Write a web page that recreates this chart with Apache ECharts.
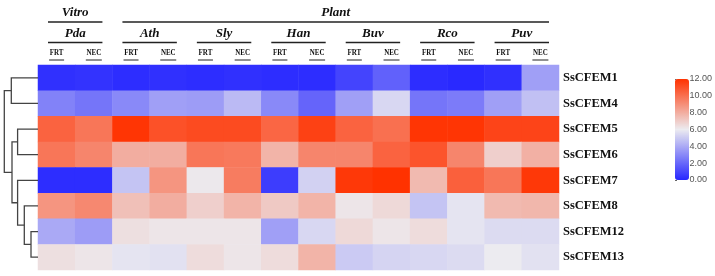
<!DOCTYPE html>
<html>
<head>
<meta charset="utf-8">
<script src="https://cdn.jsdelivr.net/npm/echarts@6/dist/echarts.min.js"></script>
<style>
  html, body { margin: 0; padding: 0; background: #fff; }
  #main { width: 715px; height: 276px; }
</style>
</head>
<body>
<div id="main"></div>
<script>
// column groups
const groupNames = ['Vitro', 'Plant'];
const groupSpan = [1, 6]; // number of species under each group
const species = ['Pda', 'Ath', 'Sly', 'Han', 'Buv', 'Rco', 'Puv'];
const stages = ['FRT', 'NEC'];
const genes = ['SsCFEM1', 'SsCFEM4', 'SsCFEM5', 'SsCFEM6', 'SsCFEM7', 'SsCFEM8', 'SsCFEM12', 'SsCFEM13'];

// expression, one row per gene, columns = species x stage
const values = [
  [0.3, 0.4, 0.2, 0.3, 0.2, 0.3, 0.2, 0.2, 0.9, 1.8, 0.2, 0.1, 0.3, 3.7],
  [2.8, 2.4, 3.0, 3.7, 3.6, 4.5, 3.0, 1.9, 3.7, 5.4, 2.4, 2.6, 3.7, 4.7],
  [10.4, 9.8, 11.9, 11.0, 11.2, 11.2, 10.3, 11.5, 10.4, 10.0, 11.9, 11.9, 11.4, 11.4],
  [9.8, 9.3, 8.0, 8.0, 9.8, 9.7, 7.8, 9.3, 9.3, 10.4, 10.9, 9.3, 6.9, 7.9],
  [0.2, 0.2, 4.8, 8.8, 6.1, 9.6, 0.7, 5.2, 11.8, 12.0, 7.6, 10.5, 9.8, 11.8],
  [8.8, 9.2, 7.4, 8.0, 6.9, 7.8, 7.1, 7.8, 6.2, 6.6, 4.8, 5.8, 7.6, 7.7],
  [4.0, 3.6, 6.4, 6.2, 6.2, 6.2, 3.7, 5.4, 6.6, 6.2, 6.5, 5.8, 5.5, 5.5],
  [6.4, 6.2, 5.8, 5.7, 6.5, 6.2, 6.5, 7.8, 5.0, 5.3, 5.4, 5.5, 6.0, 5.7]
];

// row dendrogram: [left node, right node, height]; leaves are 0..7, merges get 8, 9, ...
const dendroMerges = [
  [6, 7, 7.0],
  [5, 8, 13.7],
  [4, 9, 20.4],
  [2, 3, 20.4],
  [11, 10, 26.0],
  [0, 1, 26.7],
  [13, 12, 33.7]
];

const columns = [];
species.forEach(sp => stages.forEach(st => columns.push(sp + ' ' + st)));

const heatData = [];
values.forEach((row, r) => row.forEach((v, c) => heatData.push([c, r, v])));

// dendrogram links
const nodeY = genes.map((g, i) => i);
const nodeH = genes.map(() => 0);
const dendroLines = [];
dendroMerges.forEach(([a, b, h]) => {
  dendroLines.push({ coords: [[nodeH[a], nodeY[a]], [h, nodeY[a]], [h, nodeY[b]], [nodeH[b], nodeY[b]]] });
  nodeY.push((nodeY[a] + nodeY[b]) / 2);
  nodeH.push(h);
});

const serif = '"Liberation Serif", "Times New Roman", serif';

var myChart = echarts.init(document.getElementById('main'));

var option = {
  animation: false,
  grid: [
    { left: 38, right: 156, top: 65, height: 205 },
    { left: 0, width: 38, top: 65, height: 205 },
    { left: 675, width: 14, top: 79, height: 101 }
  ],
  xAxis: [
    { type: 'category', data: columns, gridIndex: 0, show: false },
    { type: 'value', gridIndex: 1, min: 0, max: 38, inverse: true, show: false },
    { type: 'value', gridIndex: 2, show: false }
  ],
  yAxis: [
    {
      type: 'category', data: genes, gridIndex: 0, inverse: true, position: 'right',
      axisLine: { show: false }, axisTick: { show: false },
      axisLabel: { fontFamily: serif, fontWeight: 'bold', fontSize: 12.5, color: '#111', margin: 4 }
    },
    { type: 'value', gridIndex: 1, min: -0.5, max: 7.5, inverse: true, show: false },
    {
      type: 'value', gridIndex: 2, min: 0, max: 12, interval: 2, position: 'right',
      splitLine: { show: false },
      axisLine: { show: false },
      axisTick: { show: true, length: 2, lineStyle: { color: '#666' } },
      axisLabel: { fontFamily: '"Liberation Sans", Arial, sans-serif', fontSize: 9, color: '#555', margin: 2,
        formatter: v => v.toFixed(2) }
    }
  ],
  visualMap: {
    type: 'continuous',
    min: 0,
    max: 12,
    seriesIndex: 0,
    calculable: false,
    left: 675,
    top: 79,
    itemWidth: 14,
    itemHeight: 101,
    padding: 0,
    inRange: { color: ['#2626ff', '#ecebf0', '#ff3200'] }
  },
  series: [
    {
      type: 'heatmap',
      xAxisIndex: 0,
      yAxisIndex: 0,
      data: heatData,
      itemStyle: { borderWidth: 0 },
      emphasis: { disabled: true }
    },
    {
      type: 'lines',
      coordinateSystem: 'cartesian2d',
      xAxisIndex: 1,
      yAxisIndex: 1,
      polyline: true,
      silent: true,
      lineStyle: { color: '#444', width: 1.3, opacity: 1 },
      data: dendroLines
    }
  ]
};

myChart.setOption(option);

// column headers, placed from the heatmap x axis
const x0 = myChart.convertToPixel({ xAxisIndex: 0 }, 0);
const x1 = myChart.convertToPixel({ xAxisIndex: 0 }, 1);
const band = x1 - x0;
const colLeft = c => x0 - band / 2 + c * band;
const graphics = [];

function headerText(text, x, y, font, sx) {
  graphics.push({
    type: 'text', x: x, y: y, scaleX: sx || 1,
    style: { text: text, x: 0, y: 0, font: font, fill: '#111', align: 'center', verticalAlign: 'middle' }
  });
}
function headerLine(xa, xb, y, w) {
  graphics.push({ type: 'line', shape: { x1: xa, y1: y, x2: xb, y2: y }, style: { stroke: '#222', lineWidth: w } });
}

let spStart = 0;
groupNames.forEach((g, gi) => {
  const l = colLeft(spStart * 2), r = colLeft((spStart + groupSpan[gi]) * 2);
  headerText(g, (l + r) / 2, 12.5, 'italic bold 13px ' + serif);
  headerLine(l + 10, r - 10, 22, 1.3);
  spStart += groupSpan[gi];
});
species.forEach((sp, si) => {
  const l = colLeft(si * 2), r = colLeft(si * 2 + 2);
  headerText(sp, (l + r) / 2, 34, 'italic bold 13px ' + serif);
  headerLine(l + 10, r - 10, 42.5, 1.3);
});
columns.forEach((col, c) => {
  const cx = colLeft(c) + band / 2;
  const st = stages[c % 2];
  headerText(st, cx, 53, 'bold 8.5px ' + serif, 0.82);
  const half = st === 'FRT' ? 7.5 : 8;
  headerLine(cx - half, cx + half, 60, 1);
});

myChart.setOption({ graphic: graphics });
</script>
</body>
</html>
